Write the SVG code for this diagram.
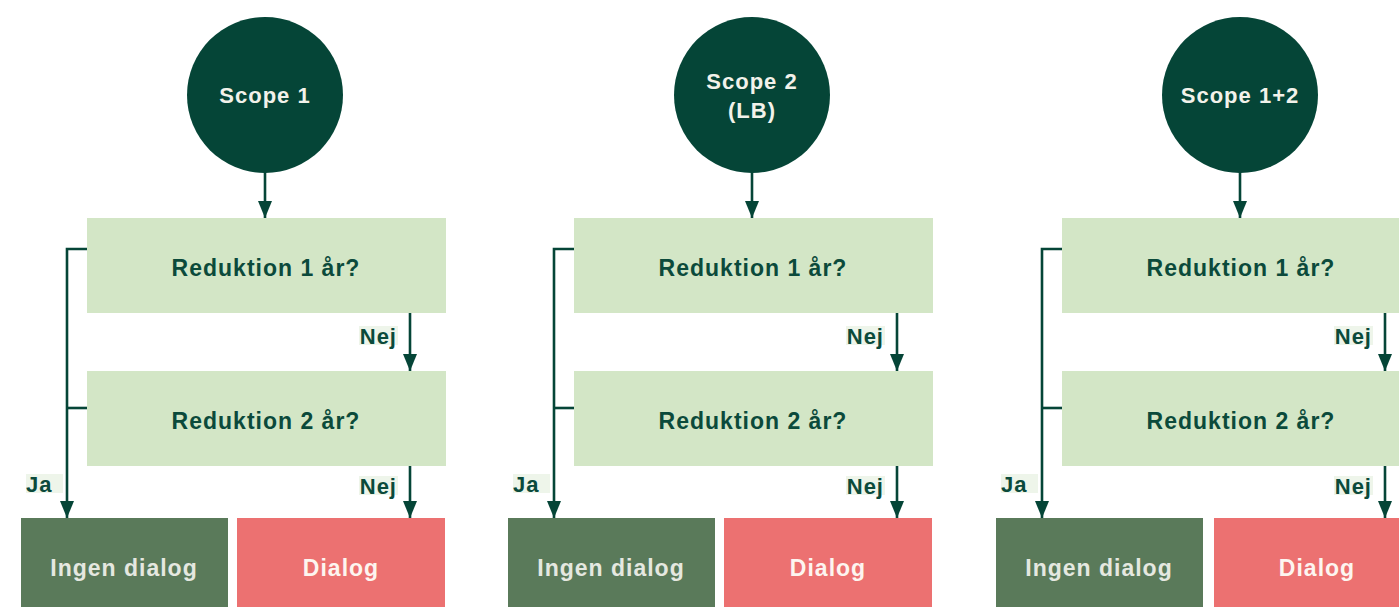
<svg xmlns="http://www.w3.org/2000/svg" width="1399" height="607" viewBox="0 0 1399 607">
<style>
.circ{fill:#054537}
.q{fill:#d3e6c6}
.no{fill:#5a7a5a}
.yes{fill:#ec7171}
.lbg{fill:#eef5ea}
text{font-family:"Liberation Sans",Arial,sans-serif;font-weight:bold;letter-spacing:1px}
.ct{fill:#f2f2ea;font-size:22px;text-anchor:middle}
.qt{fill:#0b4a3b;font-size:23px;text-anchor:middle}
.lt{fill:#0b4a3b;font-size:22px}
.nt{fill:#e5e8e0;font-size:23px;text-anchor:middle}
.dt{fill:#fdf5f0;font-size:23px;text-anchor:middle}
.c{fill:none;stroke:#054537;stroke-width:2.6;marker-end:url(#ah)}
.cn{fill:none;stroke:#054537;stroke-width:2.6}
</style>
<defs>
<marker id="ah" markerUnits="userSpaceOnUse" viewBox="0 0 17 14" markerWidth="17" markerHeight="14" refX="17" refY="7" orient="auto">
<path d="M0,0 L17,7 L0,14 z" fill="#054537"/>
</marker>
</defs>

<!-- Panel 1 -->
<g id="scope1"><circle class="circ" cx="265" cy="95" r="78"/><text class="ct" x="265" y="103">Scope 1</text></g>
<g id="q1a"><rect class="q" x="87" y="218" width="359" height="95"/><text class="qt" x="266" y="276">Reduktion 1 år?</text></g>
<g id="q1b"><rect class="q" x="87" y="371" width="359" height="95"/><text class="qt" x="266" y="429">Reduktion 2 år?</text></g>
<g id="no1"><rect class="no" x="21" y="518" width="207" height="89"/><text class="nt" x="124" y="576">Ingen dialog</text></g>
<g id="d1"><rect class="yes" x="237" y="518" width="208" height="89"/><text class="dt" x="341" y="576">Dialog</text></g>

<!-- Panel 2 -->
<g id="scope2"><circle class="circ" cx="752" cy="95" r="78"/><text class="ct" x="752" y="89">Scope 2</text><text class="ct" x="752" y="118">(LB)</text></g>
<g id="q2a"><rect class="q" x="574" y="218" width="359" height="95"/><text class="qt" x="753" y="276">Reduktion 1 år?</text></g>
<g id="q2b"><rect class="q" x="574" y="371" width="359" height="95"/><text class="qt" x="753" y="429">Reduktion 2 år?</text></g>
<g id="no2"><rect class="no" x="508" y="518" width="207" height="89"/><text class="nt" x="611" y="576">Ingen dialog</text></g>
<g id="d2"><rect class="yes" x="724" y="518" width="208" height="89"/><text class="dt" x="828" y="576">Dialog</text></g>

<!-- Panel 3 -->
<g id="scope3"><circle class="circ" cx="1240" cy="95" r="78"/><text class="ct" x="1240" y="103">Scope 1+2</text></g>
<g id="q3a"><rect class="q" x="1062" y="218" width="359" height="95"/><text class="qt" x="1241" y="276">Reduktion 1 år?</text></g>
<g id="q3b"><rect class="q" x="1062" y="371" width="359" height="95"/><text class="qt" x="1241" y="429">Reduktion 2 år?</text></g>
<g id="no3"><rect class="no" x="996" y="518" width="207" height="89"/><text class="nt" x="1099" y="576">Ingen dialog</text></g>
<g id="d3"><rect class="yes" x="1214" y="518" width="208" height="89"/><text class="dt" x="1317" y="576">Dialog</text></g>

<g id="connectors">
<path class="c" d="M265,172 V218"/>
<path class="c" d="M410,313 V371"/>
<path class="c" d="M410,466 V518"/>
<path class="c" d="M87,249 H67 V518"/>
<path class="cn" d="M87,408 H67"/>

<path class="c" d="M752,172 V218"/>
<path class="c" d="M897,313 V371"/>
<path class="c" d="M897,466 V518"/>
<path class="c" d="M574,249 H554 V518"/>
<path class="cn" d="M574,408 H554"/>

<path class="c" d="M1240,172 V218"/>
<path class="c" d="M1385,313 V371"/>
<path class="c" d="M1385,466 V518"/>
<path class="c" d="M1062,249 H1042 V518"/>
<path class="cn" d="M1062,408 H1042"/>
</g>

<g id="labels">
<rect class="lbg" x="359" y="326" width="39" height="19"/><text class="lt" x="397" y="344" text-anchor="end">Nej</text>
<rect class="lbg" x="359" y="476" width="39" height="19"/><text class="lt" x="397" y="494" text-anchor="end">Nej</text>
<rect class="lbg" x="26" y="474" width="37" height="19"/><text class="lt" x="26" y="492">Ja</text>

<rect class="lbg" x="846" y="326" width="39" height="19"/><text class="lt" x="884" y="344" text-anchor="end">Nej</text>
<rect class="lbg" x="846" y="476" width="39" height="19"/><text class="lt" x="884" y="494" text-anchor="end">Nej</text>
<rect class="lbg" x="513" y="474" width="37" height="19"/><text class="lt" x="513" y="492">Ja</text>

<rect class="lbg" x="1334" y="326" width="39" height="19"/><text class="lt" x="1372" y="344" text-anchor="end">Nej</text>
<rect class="lbg" x="1334" y="476" width="39" height="19"/><text class="lt" x="1372" y="494" text-anchor="end">Nej</text>
<rect class="lbg" x="1001" y="474" width="37" height="19"/><text class="lt" x="1001" y="492">Ja</text>
</g>
</svg>
